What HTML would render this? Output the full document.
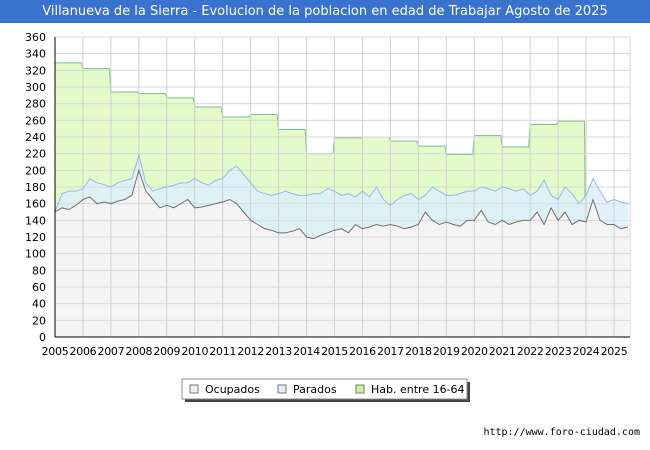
<!DOCTYPE html>
<html><head><meta charset="utf-8"><style>
body{margin:0;width:650px;height:450px;background:#fff;font-family:"DejaVu Sans","Liberation Sans",sans-serif;overflow:hidden;position:relative}
#title{position:absolute;left:0;top:0;width:650px;height:23px;background:#3a72d0;color:#fff;font-size:13px;line-height:23px;text-align:center}
#url{position:absolute;right:10px;top:427px;font-size:10px;font-family:"DejaVu Sans Mono","Liberation Mono",monospace;color:#000}
svg text{font-family:"DejaVu Sans","Liberation Sans",sans-serif}
</style></head><body>
<div id="title">Villanueva de la Sierra - Evolucion de la poblacion en edad de Trabajar Agosto de 2025</div>
<svg id="chart" width="650" height="450" style="position:absolute;left:0;top:0"></svg>
<div id="url">http://www.foro-ciudad.com</div>
<script>
const years=[2005,2006,2007,2008,2009,2010,2011,2012,2013,2014,2015,2016,2017,2018,2019,2020,2021,2022,2023,2024,2025];
const hab=[329,322,294,292,287,276,264,267,249,220,239,240,235,229,219,242,228,255,259];
const ocupados=[150,155,153,158,165,168,160,162,160,163,165,170,200,175,165,155,158,155,160,165,155,156,158,160,162,165,160,150,140,135,130,128,125,125,127,130,120,118,122,125,128,130,125,135,130,132,135,133,135,133,130,132,135,150,140,135,138,135,133,140,140,152,138,135,140,135,138,140,140,150,135,155,140,150,135,140,138,165,140,135,135,130,132];
const parados=[0,17,22,17,13,22,25,21,20,22,23,20,18,10,10,23,22,27,25,20,35,29,24,28,28,35,45,45,45,40,42,42,47,50,45,40,50,54,50,53,47,40,47,33,45,36,45,32,23,32,40,40,30,20,40,40,32,35,39,35,35,28,40,40,40,43,37,38,30,25,53,15,25,30,37,20,32,25,35,27,30,32,28];
const yTicks=[0,20,40,60,80,100,120,140,160,180,200,220,240,260,280,300,320,340,360];
const svg=document.getElementById('chart');const NS='http://www.w3.org/2000/svg';
const L=55,R=630,T=37,B=337;
const xs=t=>L+(t-2005)*27.95;const ys=v=>B-v*(B-T)/360;
function mk(tag,at,parent){const e=document.createElementNS(NS,tag);for(const k in at)e.setAttribute(k,at[k]);(parent||svg).appendChild(e);return e;}
mk('rect',{x:L,y:T,width:R-L,height:B-T,fill:'#fff'});
let hp=`M${xs(2005)},${B}`;hab.forEach((v,i)=>{hp+=` L${xs(2005+i)},${ys(v)} L${xs(2005+i+1)-1.5},${ys(v)}`;});
hp+=` L${xs(2005+hab.length)},${B} Z`;
const ha=mk('path',{d:hp,fill:'#e2fbc8',stroke:'none'});

let hl=`M${xs(2005)},${ys(hab[0])}`;hab.forEach((v,i)=>{hl+=` L${xs(2005+i)},${ys(v)} L${xs(2005+i+1)-1.5},${ys(v)}`;});
hl+=` L${xs(2005+hab.length)},${B}`;
const hline=mk('path',{d:hl,fill:'none',stroke:'#7cc08c','stroke-width':1});

const tq=i=>2005+i*0.25;
let tp='',op='';
ocupados.forEach((v,i)=>{const x=xs(tq(i));tp+=(i?' L':'M')+x+','+ys(v+parados[i]);op+=(i?' L':'M')+x+','+ys(v);});
const xe=xs(tq(ocupados.length-1));
const pa=mk('path',{d:tp+` L${xe},${B} L${L},${B} Z`,fill:'#ddeeff','fill-opacity':0.85});

const oa=mk('path',{d:op+` L${xe},${B} L${L},${B} Z`,fill:'#f4f4f4'});

yTicks.forEach(v=>{const g=mk('line',{x1:L,x2:R,y1:ys(v),y2:ys(v),stroke:'#d8d8d8'});

const t=mk('text',{x:46,y:ys(v)+4,'text-anchor':'end','font-size':11,fill:'#000'});t.textContent=v;
});
years.forEach(y=>{const x=xs(y);const g=mk('line',{x1:x,x2:x,y1:T,y2:B,stroke:'#d0d0d0'});

const t=mk('text',{x:x,y:355,'text-anchor':'middle','font-size':11,'letter-spacing':-0.3,fill:'#000'});t.textContent=y;
});
mk('line',{x1:R,x2:R,y1:T,y2:B,stroke:'#d0d0d0'});
const tl=mk('path',{d:tp,fill:'none',stroke:'#9ab8e8','stroke-width':1});

const ol=mk('path',{d:op,fill:'none',stroke:'#707070','stroke-width':1});

mk('line',{x1:L,x2:L,y1:T,y2:B,stroke:'#000'});mk('line',{x1:L,x2:R,y1:B,y2:B,stroke:'#000'});
const lg=mk('g',{});
mk('rect',{x:185,y:382,width:285,height:20,fill:'#444'},lg);
mk('rect',{x:182,y:379,width:285,height:20,fill:'#fff',stroke:'#888'},lg);
[['Ocupados','#eeeeee',190],['Parados','#ddeeff',278],['Hab. entre 16-64','#ccf5a0',356]].forEach(([n,c,x])=>{
const e=mk('g',{},lg);
mk('rect',{x:x,y:385,width:8,height:8,fill:c,stroke:'#777'},e);
const t=mk('text',{x:x+15,y:393,'font-size':11,fill:'#000'},e);t.textContent=n;});
</script>
</body></html>
